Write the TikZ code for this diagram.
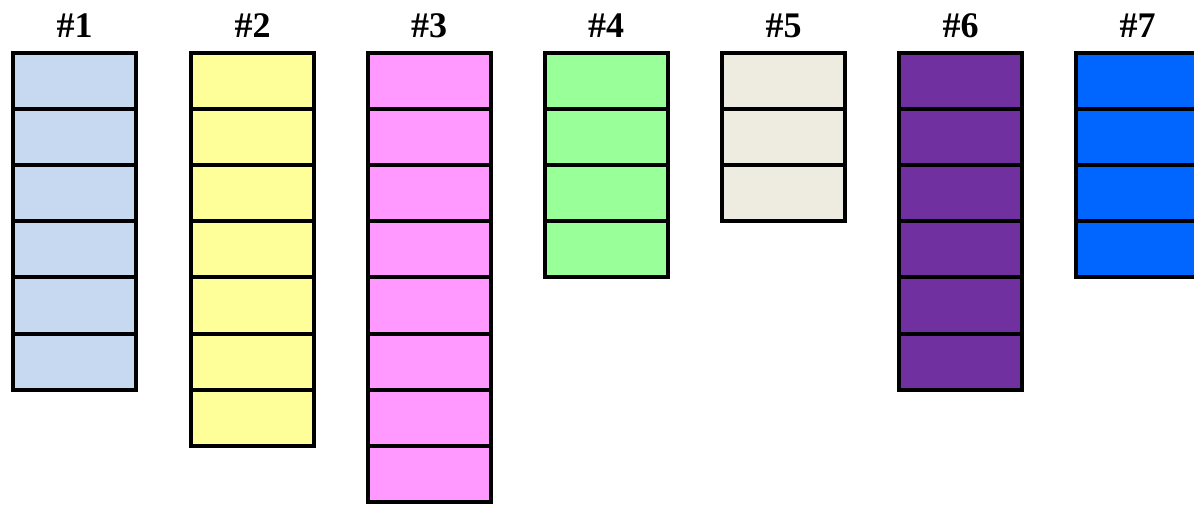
\documentclass[tikz,border=0pt]{standalone}
\usepackage{fontspec}
\setmainfont{Liberation Serif}
\definecolor{c1}{RGB}{198,217,241}
\definecolor{c2}{RGB}{255,255,153}
\definecolor{c3}{RGB}{255,153,255}
\definecolor{c4}{RGB}{153,255,153}
\definecolor{c5}{RGB}{238,236,225}
\definecolor{c6}{RGB}{112,48,160}
\definecolor{c7}{RGB}{0,102,255}
\tikzset{
  cell/.style={draw=black, line width=2pt, inner sep=0pt, minimum width=61.5pt, minimum height=28.05pt},
  lab/.style={font=\fontsize{18}{19}\selectfont\bfseries, inner sep=0pt}
}
\begin{document}
\begin{tikzpicture}[x=0.5pt,y=-0.5pt]
\useasboundingbox (0,0) rectangle (1194,505);
\clip (0,0) rectangle (1194,505);
\foreach \k/\cx/\n/\col in {1/74.5/6/c1, 2/252.5/7/c2, 3/429/8/c3, 4/606/4/c4, 5/783.5/3/c5, 6/960.5/6/c6, 7/1137.5/4/c7}{
  \node[lab] (l\k) at (\cx,26) {\#\k};
  \foreach \i in {1,...,\n}{
    \node[cell, fill=\col] (b\k-\i) at (\cx,{53+56.1*(\i-0.5)}) {};
  }
}
\end{tikzpicture}
\end{document}
